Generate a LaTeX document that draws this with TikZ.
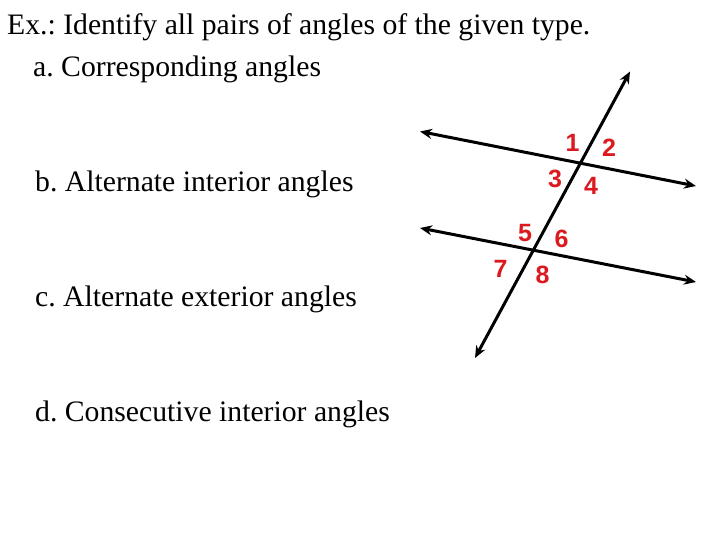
\documentclass[tikz,border=0pt]{standalone}
\usepackage{fontspec}
\setmainfont{Liberation Serif}
\newfontfamily\lblfont{Liberation Sans}
\usetikzlibrary{arrows.meta}
\definecolor{angred}{RGB}{220,25,30}
\frenchspacing
\begin{document}
\begin{tikzpicture}[x=1pt,y=-1pt,
  txt/.style={anchor=base west,inner sep=0pt,font=\fontsize{29.7}{32}\selectfont},
  num/.style={anchor=center,inner sep=0pt,text=angred,font=\lblfont\bfseries\fontsize{25}{27}\selectfont},
  ln/.style={line width=3pt,{Stealth[length=12pt,width=10pt]}-{Stealth[length=12pt,width=10pt]}}]
\useasboundingbox[fill=white] (0,0) rectangle (720,540);
\node[txt] (title) at (7,35) {Ex.: Identify all pairs of angles of the given type.};
\node[txt] (a) at (33,77) {a. Corresponding angles};
\node[txt] (b) at (35,192) {b. Alternate interior angles};
\node[txt] (c) at (35,306) {c. Alternate exterior angles};
\node[txt] (d) at (35,421) {d. Consecutive interior angles};
\coordinate (l1a) at (420,131.5);
\coordinate (l1b) at (696,186);
\coordinate (l2a) at (420,228);
\coordinate (l2b) at (696,282);
\coordinate (ta) at (630,71.5);
\coordinate (tb) at (475,358);
\draw[ln] (l1a) -- (l1b);
\draw[ln] (l2a) -- (l2b);
\draw[ln] (tb) -- (ta);
\node[num] (n1) at (572.5,143) {1};
\node[num] (n2) at (609,147.5) {2};
\node[num] (n3) at (555,178.5) {3};
\node[num] (n4) at (591,186) {4};
\node[num] (n5) at (525,233) {5};
\node[num] (n6) at (561.5,238.5) {6};
\node[num] (n7) at (500.5,268.5) {7};
\node[num] (n8) at (542.5,275) {8};
\end{tikzpicture}
\end{document}
